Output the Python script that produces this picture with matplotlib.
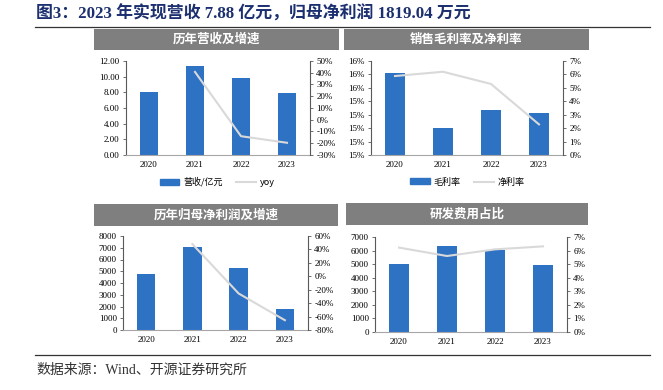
import numpy as np
import matplotlib.pyplot as plt
from matplotlib.patches import Rectangle
from matplotlib.lines import Line2D

plt.rcParams['font.family'] = ['Liberation Serif', 'Noto Sans CJK SC']
plt.rcParams['axes.unicode_minus'] = False

# dados
years = ['2020', '2021', '2022', '2023']
revenue = [8.10, 11.40, 9.80, 7.88]          # 营收/亿元
revenue_yoy = [None, 40.7, -14.0, -19.6]     # %
gross_margin = [15.61, 15.20, 15.335, 15.31]  # %
net_margin = [5.88, 6.20, 5.29, 2.28]        # %
net_profit = [4770, 7060, 5250, 1819.04]     # 万元
net_profit_yoy = [None, 48.0, -25.6, -65.4]  # %
rd_expense = [5010, 6340, 6070, 4960]        # 万元
rd_ratio = [6.22, 5.60, 6.09, 6.31]          # %

rev_ticks = [0, 2, 4, 6, 8, 10, 12]
rev_yoy_ticks = [-30, -20, -10, 0, 10, 20, 30, 40, 50]
gm_ticks = [15.0, 15.1, 15.2, 15.3, 15.4, 15.5, 15.6, 15.7]
gm_ticklabels = ['15%', '15%', '15%', '15%', '15%', '16%', '16%', '16%']
nm_ticks = [0, 1, 2, 3, 4, 5, 6, 7]
np_ticks = [0, 1000, 2000, 3000, 4000, 5000, 6000, 7000, 8000]
np_yoy_ticks = [-80, -60, -40, -20, 0, 20, 40, 60]
rd_ticks = [0, 1000, 2000, 3000, 4000, 5000, 6000, 7000]
rd_ratio_ticks = [0, 1, 2, 3, 4, 5, 6, 7]

W, H = 663, 390
BAR = '#2E72C4'
LINE = '#D9D9D9'
SPINE = '#595959'
CJK = ['Noto Sans CJK SC', 'DejaVu Sans']

fig = plt.figure(figsize=(W / 100, H / 100), dpi=100)


def px_rect(x0, y0, x1, y1):
    # pixel coords (topo à esquerda) -> fração da figura
    return [x0 / W, 1 - y1 / H, (x1 - x0) / W, (y1 - y0) / H]


def header(x0, y0, x1, y1, text):
    r = px_rect(x0, y0, x1, y1)
    fig.patches.append(Rectangle((r[0], r[1]), r[2], r[3], transform=fig.transFigure,
                                 facecolor='#7F7F7F', edgecolor='none'))
    fig.text(r[0] + r[2] / 2, r[1] + r[3] / 2, text, color='white', fontsize=9,
             fontweight='bold', family=CJK, ha='center', va='center')


def style(ax, right=False):
    for s in ['top', 'right', 'left', 'bottom']:
        ax.spines[s].set_visible(False)
    side = 'right' if right else 'left'
    ax.spines[side].set_visible(True)
    ax.spines[side].set_color(SPINE)
    ax.spines[side].set_linewidth(0.8)
    ax.tick_params(axis='y', labelsize=6.5, length=2.5, width=0.6, color=SPINE, pad=2)
    ax.tick_params(axis='x', labelsize=6.5, length=0, pad=4)


def panel(rect, bars, left_ticks, left_labels, line, right_ticks):
    ax = fig.add_axes(rect)
    x = np.arange(len(years))
    ax.bar(x, [b - left_ticks[0] for b in bars], width=0.4, bottom=left_ticks[0], color=BAR)
    ax.set_xlim(-0.5, len(years) - 0.5)
    ax.set_ylim(left_ticks[0], left_ticks[-1])
    ax.set_yticks(left_ticks)
    ax.set_yticklabels(left_labels)
    ax.set_xticks(x)
    ax.set_xticklabels(years)
    style(ax)
    ax.spines['bottom'].set_visible(True)
    ax.spines['bottom'].set_color('#A6A6A6')
    ax.spines['bottom'].set_linewidth(0.8)

    ax2 = ax.twinx()
    pts = [(i, v) for i, v in enumerate(line) if v is not None]
    ax2.plot([p[0] for p in pts], [p[1] for p in pts], color=LINE, lw=1.5)
    ax2.set_ylim(right_ticks[0], right_ticks[-1])
    ax2.set_yticks(right_ticks)
    ax2.set_yticklabels([f'{t}%' for t in right_ticks])
    style(ax2, right=True)
    return ax, ax2


def legend(cx, cy, bar_label, line_label):
    ax = fig.add_axes(px_rect(cx - 60, cy - 7, cx + 60, cy + 7))
    ax.axis('off')
    h = [Rectangle((0, 0), 1, 1, color=BAR), Line2D([0], [0], color=LINE, lw=1.5)]
    ax.legend(h, [bar_label, line_label], loc='center', ncol=2, frameon=False,
              prop={'family': CJK, 'size': 6.5}, handlelength=2.2, handleheight=0.6,
              columnspacing=1.5, handletextpad=0.4)


# título
fig.text(36 / W, 1 - 14 / H, '图3：2023 年实现营收 7.88 亿元，归母净利润 1819.04 万元',
         fontsize=12.2, fontweight='bold', color='#1C2F6E', va='center',
         family=['Liberation Serif', 'Noto Sans CJK SC'])
fig.add_artist(Line2D([35 / W, 650 / W], [1 - 27 / H] * 2, color='#333333', lw=0.9,
                      transform=fig.transFigure))
fig.add_artist(Line2D([35 / W, 650 / W], [1 - 355 / H] * 2, color='#333333', lw=0.9,
                      transform=fig.transFigure))
fig.text(36 / W, 1 - 370 / H, '数据来源：Wind、开源证券研究所', fontsize=10, color='#333333',
         va='center', family=['Liberation Serif', 'Noto Sans CJK SC'])

# painel 1
header(94, 29, 339, 50, '历年营收及增速')
panel(px_rect(126, 61, 310, 155), revenue, rev_ticks, [f'{t:.2f}' for t in rev_ticks],
      revenue_yoy, rev_yoy_ticks)
legend(217, 182, '营收/亿元', 'yoy')

# painel 2
header(344, 29, 589, 50, '销售毛利率及净利率')
panel(px_rect(371, 61, 563, 155), gross_margin, gm_ticks, gm_ticklabels,
      net_margin, nm_ticks)
legend(467, 182, '毛利率', '净利率')

# painel 3
header(94, 204, 338, 226, '历年归母净利润及增速')
panel(px_rect(123, 236, 308, 330), net_profit, np_ticks, [str(t) for t in np_ticks],
      net_profit_yoy, np_yoy_ticks)

# painel 4
header(346, 203, 588, 225, '研发费用占比')
panel(px_rect(375, 237, 567, 332), rd_expense, rd_ticks, [str(t) for t in rd_ticks],
      rd_ratio, rd_ratio_ticks)

fig.savefig('out.png', dpi=100)
